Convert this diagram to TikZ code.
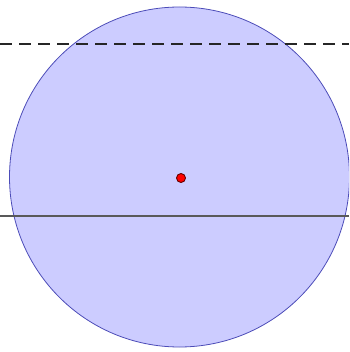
\documentclass[tikz,border=0pt]{standalone}
\begin{document}
\begin{tikzpicture}[x=1pt,y=-1pt,
  disc/.style={draw=blue!60!black!70, fill=blue!20, line width=0.8pt},
  solidline/.style={draw=black!65, line width=1.6pt},
  dashline/.style={draw=black!85, line width=1.3pt, dash pattern=on 12pt off 7pt},
  centerdot/.style={circle, fill=red, draw=red!40!black, line width=0.9pt, minimum size=9pt, inner sep=0pt}]
\useasboundingbox (0,0) rectangle (349,352);
\begin{scope}
\clip (0,0) rectangle (349,352);
\node[disc, circle, minimum size=340pt, inner sep=0pt] (c) at (179.5,177) {};
\coordinate (sl) at (0,216);
\coordinate (sr) at (349,216);
\coordinate (dl) at (0,44);
\coordinate (dr) at (349,44);
\draw[solidline] (sl) -- (sr);
\draw[dashline] (dl) -- (dr);
\node[centerdot] (o) at (181,178) {};
\end{scope}
\end{tikzpicture}
\end{document}
